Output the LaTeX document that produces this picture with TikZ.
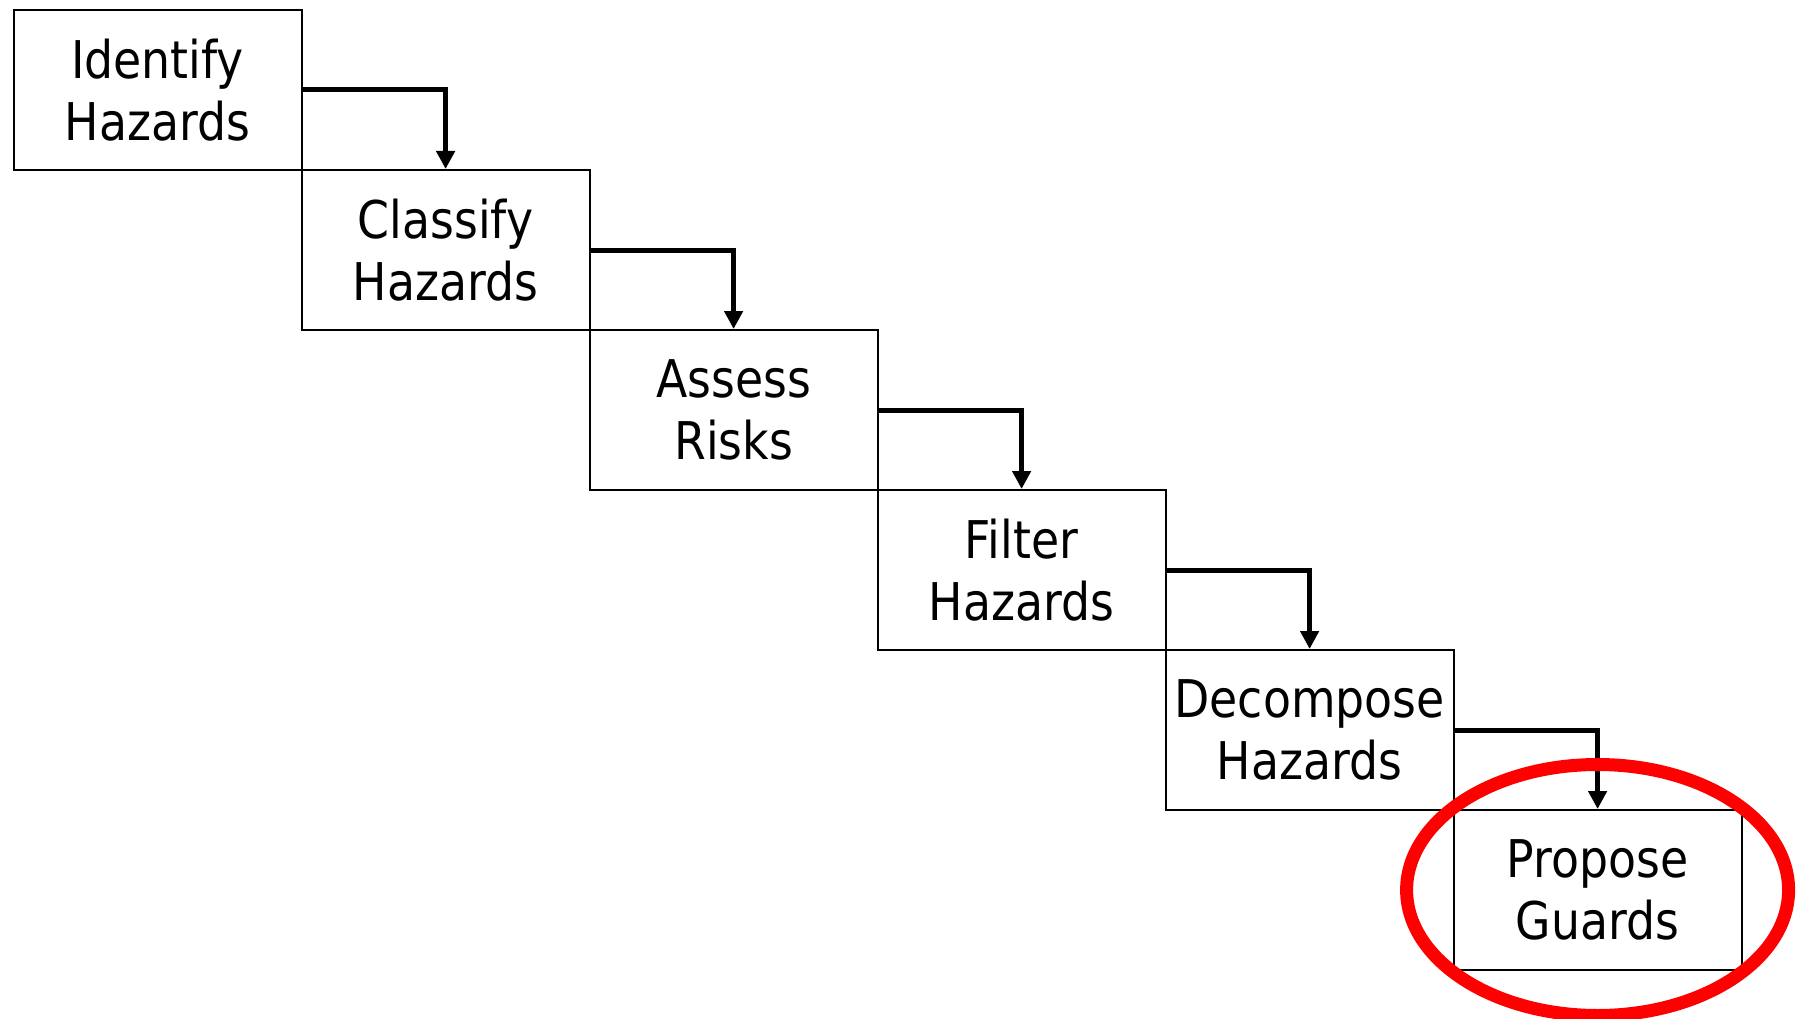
\documentclass[tikz,border=0pt]{standalone}
\usepackage{fontspec}
\setmainfont{DejaVu Sans}[FakeStretch=0.88]
\usetikzlibrary{arrows.meta}
\begin{document}
\begin{tikzpicture}[x=1pt,y=-1pt,
  stepbox/.style={draw=black, line width=2pt, rectangle, anchor=north west,
    minimum width=288pt, minimum height=160pt, inner sep=0pt, align=center,
    font=\fontsize{52}{62}\selectfont},
  flow/.style={line width=5pt, -{Triangle[width=18pt,length=18pt]}}]
\useasboundingbox[fill=white] (0,0) rectangle (1799,1019);
\node[stepbox] (b1) at (12.6,9)   {Identify\\Hazards};
\node[stepbox] (b2) at (300.6,169) {Classify\\Hazards};
\node[stepbox] (b3) at (588.6,329) {Assess\\Risks};
\node[stepbox] (b4) at (876.6,489) {Filter\\Hazards};
\node[stepbox] (b5) at (1164.6,649) {Decompose\\Hazards};
\node[stepbox] (b6) at (1452.6,809) {Propose\\Guards};
\draw[flow] (b1.east) -| (b2.north);
\draw[flow] (b2.east) -| (b3.north);
\draw[flow] (b3.east) -| (b4.north);
\draw[flow] (b4.east) -| (b5.north);
\draw[flow] (b5.east) -| (b6.north);
\draw[red, line width=13pt] (b6.center) ellipse [x radius=191pt, y radius=125.5pt];
\end{tikzpicture}
\end{document}
